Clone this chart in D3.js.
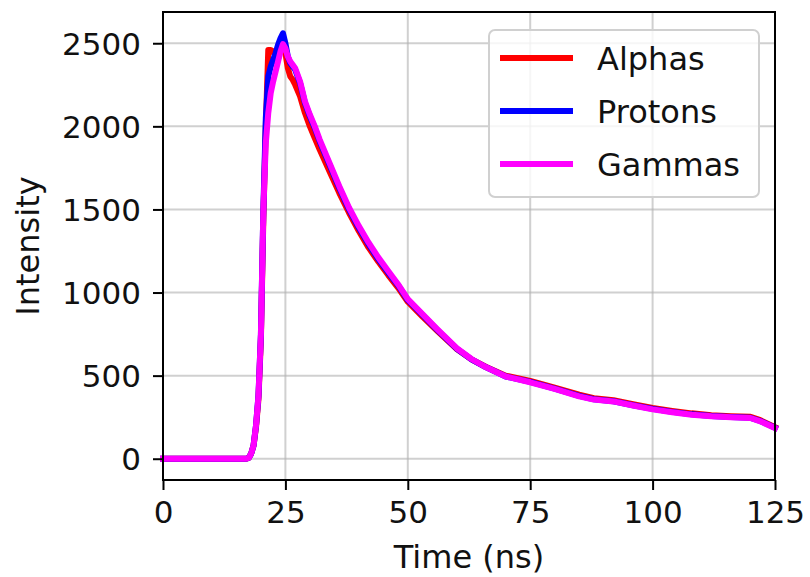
<!DOCTYPE html>
<html>
<head>
<meta charset="utf-8">
<script src="https://cdn.jsdelivr.net/npm/d3@7"></script>
<style>
  body { margin: 0; background: #fff; }
  text { font-family: "DejaVu Sans", sans-serif; fill: #111; }
</style>
</head>
<body>
<div id="chart"></div>
<script>
// shared time axis (ns)
var times = [0, 5, 10, 15, 17, 17.5, 18, 18.5, 19, 19.5, 20, 20.5, 21, 21.5, 22, 22.5, 23, 23.5, 24, 24.5, 25, 25.5, 26, 26.5, 27,
  28, 29, 30, 31, 32, 34, 36, 38, 40, 42, 44, 46, 48, 50, 53, 56, 60, 63, 66, 70, 75, 80, 85, 88, 92, 96, 100, 104, 108, 112, 116, 120, 122, 125]

var alphas = [0, 0, 0, 0, 0, 5, 30, 80, 190, 360, 720, 1450, 2000, 2460, 2460, 2450, 2420, 2440, 2470, 2480, 2440, 2350, 2300, 2280, 2250,
  2180, 2080, 2000, 1930, 1860, 1730, 1600, 1480, 1370, 1270, 1185, 1105, 1030, 945, 855, 770, 660, 598, 552, 500, 468, 428, 385, 364, 352, 328, 305, 288, 273, 262, 256, 252, 232, 190]

var protons = [0, 0, 0, 0, 0, 5, 30, 80, 200, 380, 750, 1500, 2050, 2300, 2360, 2400, 2440, 2490, 2530, 2560, 2500, 2420, 2380, 2360, 2340,
  2260, 2140, 2060, 1990, 1910, 1770, 1630, 1500, 1390, 1290, 1200, 1120, 1045, 955, 865, 775, 662, 598, 550, 495, 462, 422, 378, 358, 346, 322, 300, 282, 267, 257, 251, 246, 227, 186]

var gammas = [0, 0, 0, 0, 0, 5, 30, 80, 200, 380, 750, 1500, 1900, 2080, 2200, 2270, 2330, 2390, 2450, 2495, 2470, 2420, 2390, 2370, 2350,
  2270, 2150, 2070, 2000, 1920, 1780, 1640, 1510, 1400, 1300, 1210, 1130, 1050, 960, 870, 780, 665, 600, 550, 495, 460, 420, 375, 356, 345, 320, 297, 280, 265, 255, 250, 245, 225, 185]

var xTicks = [0, 25, 50, 75, 100, 125]
var yTicks = [0, 500, 1000, 1500, 2000, 2500]

var series = [
  { name: 'Alphas', color: '#ff0000', values: alphas },
  { name: 'Protons', color: '#0000ff', values: protons },
  { name: 'Gammas', color: '#ff00ff', values: gammas }
]

var width = 810, height = 577
var margin = { top: 12, right: 35, bottom: 97, left: 163 }
var w = width - margin.left - margin.right
var h = height - margin.top - margin.bottom

var svg = d3.select('#chart')
  .append('svg')
  .attr('width', width)
  .attr('height', height)

var g = svg.append('g')
  .attr('transform', `translate(${margin.left},${margin.top})`)

var x = d3.scaleLinear().domain([0, 125]).range([0, w])
var y = d3.scaleLinear().domain([-128, 2688]).range([h, 0])

// grid
g.append('g')
  .selectAll('line')
  .data(xTicks)
  .enter()
  .append('line')
  .attr('x1', d => x(d)).attr('x2', d => x(d))
  .attr('y1', 0).attr('y2', h)
  .attr('stroke', '#b0b0b0').attr('stroke-opacity', 0.6).attr('stroke-width', 2)

g.append('g')
  .selectAll('line')
  .data(yTicks)
  .enter()
  .append('line')
  .attr('y1', d => y(d)).attr('y2', d => y(d))
  .attr('x1', 0).attr('x2', w)
  .attr('stroke', '#b0b0b0').attr('stroke-opacity', 0.6).attr('stroke-width', 2)

// lines
var line = d3.line()
  .x((d, i) => x(times[i]))
  .y(d => y(d))

g.append('g')
  .selectAll('path')
  .data(series)
  .enter()
  .append('path')
  .attr('d', d => line(d.values))
  .attr('fill', 'none')
  .attr('stroke', d => d.color)
  .attr('stroke-width', 6)
  .attr('stroke-linejoin', 'round')
  .attr('stroke-linecap', 'square')

// axes
var xAxis = g.append('g')
  .attr('transform', `translate(0,${h})`)
  .call(d3.axisBottom(x).tickValues(xTicks).tickSize(10).tickPadding(11).tickFormat(d3.format('d')))
var yAxis = g.append('g')
  .call(d3.axisLeft(y).tickValues(yTicks).tickSize(10).tickPadding(12).tickFormat(d3.format('d')))

;[xAxis, yAxis].forEach(a => {
  a.select('.domain').remove()
  a.selectAll('line').attr('stroke', '#000').attr('stroke-width', 2)
  a.selectAll('text').style('font-size', '31px').attr('fill', '#111')
})
yAxis.selectAll('text').attr('dy', '0.36em')

// frame
g.append('rect')
  .attr('width', w).attr('height', h)
  .attr('fill', 'none').attr('stroke', '#000').attr('stroke-width', 2)

// labels
svg.append('text')
  .attr('x', margin.left + w / 2).attr('y', 568)
  .attr('text-anchor', 'middle')
  .style('font-size', '32px')
  .text('Time (ns)')

svg.append('text')
  .attr('transform', `translate(39,${margin.top + h / 2}) rotate(-90)`)
  .attr('text-anchor', 'middle')
  .style('font-size', '32px')
  .text('Intensity')

// legend
var legend = svg.append('g').attr('transform', 'translate(489,30)')
legend.append('rect')
  .attr('width', 270).attr('height', 167)
  .attr('rx', 6)
  .attr('fill', '#fff').attr('fill-opacity', 0.8)
  .attr('stroke', '#d0d0d0').attr('stroke-width', 2)

var items = legend.selectAll('.item')
  .data(series)
  .enter()
  .append('g')
  .attr('transform', (d, i) => `translate(0,${28 + i * 53})`)

items.append('line')
  .attr('x1', 11).attr('x2', 84)
  .attr('stroke', d => d.color)
  .attr('stroke-width', 6)

items.append('text')
  .attr('x', 108).attr('dy', '0.36em')
  .style('font-size', '32px')
  .text(d => d.name)
</script>
</body>
</html>
